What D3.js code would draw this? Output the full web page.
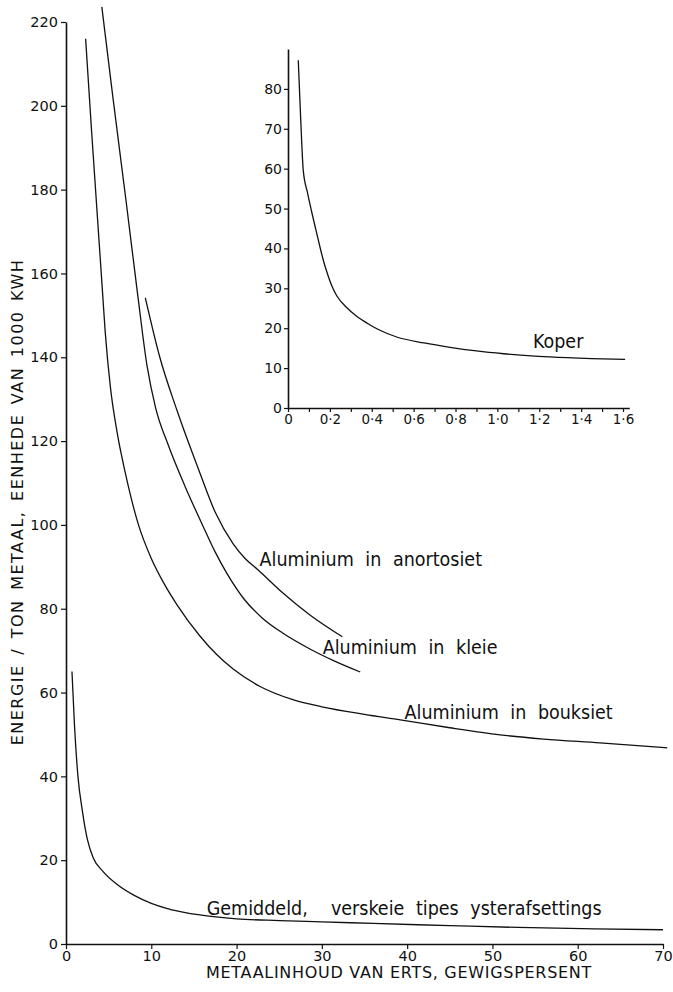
<!DOCTYPE html>
<html>
<head>
<meta charset="utf-8">
<script src="https://cdn.jsdelivr.net/npm/d3@7"></script>
<style>
  body { margin: 0; background: #fff; }
  svg { display: block; }
  .tick text { font-family: "DejaVu Sans", sans-serif; fill: #111; }
  .lbl { font-family: "DejaVu Sans Condensed", "DejaVu Sans", sans-serif; fill: #111; }
</style>
</head>
<body>
<svg width="673" height="992"></svg>
<script>
// Main chart data: metal content of ore (%) vs energy per ton (1000 kWh)
const ironX = [0.7, 1.0, 1.4, 1.9, 2.5, 3.2, 4.3, 6, 8, 10, 12, 14, 17, 20, 25, 30, 36, 45, 53, 62, 70];
const ironY = [65, 52, 40, 32, 25, 20.5, 17.4, 14.2, 11.6, 9.7, 8.4, 7.5, 6.6, 6.0, 5.6, 5.3, 4.9, 4.4, 3.95, 3.6, 3.4];

const bauxiteX = [2.3, 3.0, 3.7, 4.3, 4.6, 5.2, 6.0, 7.0, 8.5, 10, 11.5, 13, 15.7, 17.7, 19.6, 22.7, 26.6, 30, 35, 39.2, 45, 50.9, 56, 62.6, 70.5];
const bauxiteY = [216, 194, 173, 155, 146, 133, 122, 112, 100, 92, 86, 81, 73.5, 69, 65.6, 61.5, 58.3, 56.6, 54.8, 53.5, 51.6, 49.9, 48.9, 48, 46.8];

const clayX = [4.2, 5.5, 7.0, 8.4, 9.5, 10.5, 12, 14, 16, 17.5, 18.9, 20.8, 23, 25.4, 28.6, 31.5, 34.5];
const clayY = [223.6, 202, 178, 155, 138, 128, 119, 109, 100, 93.5, 88.3, 82.5, 77.8, 74.2, 70.4, 67.5, 64.9];

const anorthositeX = [9.3, 11, 13, 15.7, 17.5, 19.6, 21, 22.5, 25.4, 28.6, 32.4];
const anorthositeY = [154.2, 140, 127.4, 112.4, 103, 95.5, 92, 89.3, 83.8, 78.5, 73.3];

// Inset data: copper
const copperX = [0.049, 0.061, 0.073, 0.093, 0.113, 0.133, 0.153, 0.17, 0.188, 0.21, 0.232, 0.28, 0.328, 0.38, 0.439, 0.519, 0.65, 0.774, 0.9, 1.03, 1.25, 1.45, 1.61];
const copperY = [87.2, 72, 59.5, 54, 49.2, 44.7, 40.3, 36.8, 33.7, 30.5, 28.2, 25.2, 23, 21.2, 19.5, 17.8, 16.3, 15.2, 14.3, 13.6, 12.8, 12.4, 12.2];

const mainXTicks = [0, 10, 20, 30, 40, 50, 60, 70];
const mainYTicks = [0, 20, 40, 60, 80, 100, 120, 140, 160, 180, 200, 220];
const insetXTicks = d3.range(0, 17).map(d => d / 10);
const insetYTicks = [0, 10, 20, 30, 40, 50, 60, 70, 80];

const svg = d3.select("svg");

// Main scales
const x = d3.scaleLinear().domain([0, 70]).range([66, 663]);
const y = d3.scaleLinear().domain([0, 220]).range([944, 22]);

// Inset scales
const ix = d3.scaleLinear().domain([0, 1.63]).range([288, 629.3]);
const iy = d3.scaleLinear().domain([0, 90]).range([408, 49]);

function styleAxis(g, size) {
  g.select(".domain").attr("stroke", "#111").attr("stroke-width", 1.6);
  g.selectAll(".tick line").attr("stroke", "#111").attr("stroke-width", 1.2);
  g.selectAll(".tick text").style("font-size", size + "px");
}

svg.append("g")
  .attr("transform", `translate(${x(0)},0)`)
  .call(d3.axisLeft(y).tickValues(mainYTicks).tickSize(5).tickSizeOuter(0).tickPadding(3))
  .call(g => styleAxis(g, 14.5));

svg.append("g")
  .attr("transform", `translate(0,${y(0)})`)
  .call(d3.axisBottom(x).tickValues(mainXTicks).tickSize(5).tickSizeOuter(0).tickPadding(2))
  .call(g => styleAxis(g, 14.5));

const fmtInset = d => d === 0 ? "0" : d3.format(".1f")(d).replace(".", "\u00b7");

svg.append("g")
  .attr("transform", `translate(${ix(0)},0)`)
  .call(d3.axisLeft(iy).tickValues(insetYTicks).tickSize(4).tickSizeOuter(0).tickPadding(2))
  .call(g => styleAxis(g, 14));

svg.append("g")
  .attr("transform", `translate(0,${iy(0)})`)
  .call(d3.axisBottom(ix).tickValues(insetXTicks).tickSize(4).tickSizeOuter(0).tickPadding(2)
    .tickFormat(d => Math.round(d * 10) % 2 === 0 ? fmtInset(d) : ""))
  .call(g => styleAxis(g, 13.5));

// Curves
const line = (sx, sy) => d3.line()
  .x(d => sx(d[0]))
  .y(d => sy(d[1]))
  .curve(d3.curveMonotoneX);

const series = [
  [ironX, ironY],
  [bauxiteX, bauxiteY],
  [clayX, clayY],
  [anorthositeX, anorthositeY],
];

svg.append("g")
  .selectAll("path")
  .data(series)
  .enter()
  .append("path")
  .attr("d", s => line(x, y)(d3.zip(s[0], s[1])))
  .attr("fill", "none")
  .attr("stroke", "#111")
  .attr("stroke-width", 1.3);

svg.append("path")
  .attr("d", line(ix, iy)(d3.zip(copperX, copperY)))
  .attr("fill", "none")
  .attr("stroke", "#111")
  .attr("stroke-width", 1.3);

// Curve labels
const labels = [
  { text: "Aluminium in anortosiet", x: x(22.7), y: y(90.3) },
  { text: "Aluminium in kleie", x: x(30.1), y: y(69.3) },
  { text: "Aluminium in bouksiet", x: x(39.7), y: y(53.7) },
  { text: "Gemiddeld,  verskeie tipes ysterafsettings", x: x(16.5), y: y(6.9) },
  { text: "Koper", x: ix(1.17), y: iy(15) },
];

svg.append("g")
  .selectAll("text")
  .data(labels)
  .enter()
  .append("text")
  .attr("class", "lbl")
  .attr("x", d => d.x)
  .attr("y", d => d.y)
  .style("font-size", "19.5px")
  .style("word-spacing", "6px")
  .style("white-space", "pre")
  .text(d => d.text);

// Axis titles
svg.append("text")
  .attr("class", "lbl")
  .attr("x", 399)
  .attr("y", 978)
  .attr("text-anchor", "middle")
  .style("font-family", "DejaVu Sans, sans-serif")
  .style("font-size", "16px")
  .style("letter-spacing", "0.7px")
  .text("METAALINHOUD VAN ERTS, GEWIGSPERSENT");

svg.append("text")
  .attr("class", "lbl")
  .attr("transform", "translate(23,502) rotate(-90)")
  .attr("text-anchor", "middle")
  .style("font-family", "DejaVu Sans, sans-serif")
  .style("font-size", "16px")
  .style("letter-spacing", "1.5px")
  .style("word-spacing", "3px")
  .text("ENERGIE / TON METAAL, EENHEDE VAN 1000 KWH");
</script>
</body>
</html>
